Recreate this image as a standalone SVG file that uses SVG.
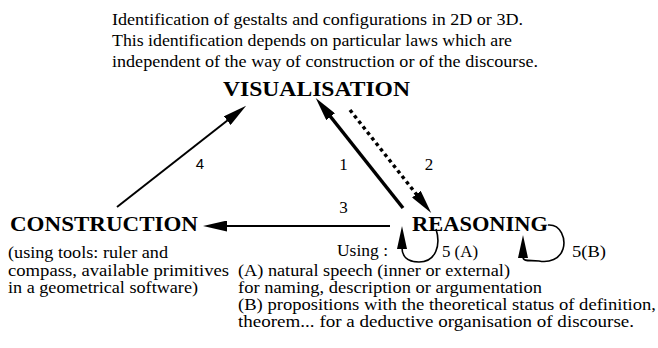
<svg xmlns="http://www.w3.org/2000/svg" width="658" height="348" viewBox="0 0 658 348">
  <style>
    .t { font-family: "Liberation Serif", "Times New Roman", serif; font-size: 17px; fill: #000; }
    .b { font-family: "Liberation Serif", "Times New Roman", serif; font-weight: bold; font-size: 22px; fill: #000; }
    .n { font-family: "Liberation Serif", "Times New Roman", serif; font-size: 17px; fill: #000; }
    .s { font-family: "Liberation Sans", Arial, sans-serif; font-size: 15px; fill: #000; }
    .ln { fill: none; stroke: #000; }
  </style>
  <defs>
    <marker id="ah" markerUnits="userSpaceOnUse" viewBox="0 0 24 11" markerWidth="24" markerHeight="11" refX="1" refY="5.5" orient="auto">
      <path d="M0,0 L24,5.5 L0,11 z" fill="#000"/>
    </marker>
    <marker id="ahs" markerUnits="userSpaceOnUse" viewBox="0 0 23 10" markerWidth="23" markerHeight="10" refX="1" refY="5" orient="auto">
      <path d="M0,0 L23,5 L0,10 z" fill="#000"/>
    </marker>
  </defs>

  <g id="description">
    <text class="t" x="112" y="25" textLength="411" lengthAdjust="spacingAndGlyphs">Identification of gestalts and configurations in 2D or 3D.</text>
    <text class="t" x="112" y="46" textLength="400" lengthAdjust="spacingAndGlyphs">This identification depends on particular laws which are</text>
    <text class="t" x="112" y="67" textLength="426" lengthAdjust="spacingAndGlyphs">independent of the way of construction or of the discourse.</text>
  </g>

  <g id="visualisation">
    <text class="b" x="223" y="96" font-size="23" textLength="187" lengthAdjust="spacingAndGlyphs">VISUALISATION</text>
  </g>

  <g id="construction">
    <text class="b" x="10" y="231" textLength="188" lengthAdjust="spacingAndGlyphs">CONSTRUCTION</text>
    <text class="t" x="8" y="258" textLength="160" lengthAdjust="spacingAndGlyphs">(using tools: ruler and</text>
    <text class="t" x="8" y="276" textLength="221" lengthAdjust="spacingAndGlyphs">compass, available primitives</text>
    <text class="t" x="8" y="293" textLength="190" lengthAdjust="spacingAndGlyphs">in a geometrical software)</text>
  </g>

  <g id="reasoning">
    <text class="b" x="412" y="231" textLength="136" lengthAdjust="spacingAndGlyphs">REASONING</text>
    <text class="t" x="337" y="256" textLength="51" lengthAdjust="spacingAndGlyphs">Using :</text>
    <text class="t" x="442" y="257" textLength="36" lengthAdjust="spacingAndGlyphs">5 (A)</text>
    <text class="t" x="572" y="257" textLength="34" lengthAdjust="spacingAndGlyphs">5(B)</text>
    <text class="t" x="238" y="276" textLength="272" lengthAdjust="spacingAndGlyphs">(A) natural speech (inner or external)</text>
    <text class="t" x="238" y="293" textLength="304" lengthAdjust="spacingAndGlyphs">for naming, description or argumentation</text>
    <text class="t" x="238" y="310" textLength="418" lengthAdjust="spacingAndGlyphs">(B) propositions with the theoretical status of definition,</text>
    <text class="t" x="238" y="327" textLength="396" lengthAdjust="spacingAndGlyphs">theorem... for a deductive organisation of discourse.</text>
  </g>

  <g id="connectors">
    <path class="ln" d="M117 207 L228 120" stroke-width="2" marker-end="url(#ah)"/>
    <text class="s" x="200" y="169" text-anchor="middle">4</text>
    <path class="ln" d="M403 208 L330 116" stroke-width="3.5" marker-end="url(#ah)"/>
    <text class="n" x="343.5" y="170" text-anchor="middle">1</text>
    <path class="ln" d="M350 110 L417 195" stroke-width="3.5" stroke-dasharray="3.5 3.5" marker-end="url(#ah)"/>
    <text class="n" x="429" y="170" text-anchor="middle">2</text>
    <path class="ln" d="M390 226 L226 226" stroke-width="2" marker-end="url(#ah)"/>
    <text class="n" x="343.5" y="213" text-anchor="middle">3</text>
    <path class="ln" d="M436 229 C441 245, 436 262, 419 262 C406 262, 402 255, 402 248" stroke-width="1.6" marker-end="url(#ahs)"/>
    <path class="ln" d="M548 225 C561 224, 566 239, 563 249 C560 259, 549 263, 539 261 C530 260, 523 262, 523 257" stroke-width="1.6" marker-end="url(#ahs)"/>
  </g>
</svg>
